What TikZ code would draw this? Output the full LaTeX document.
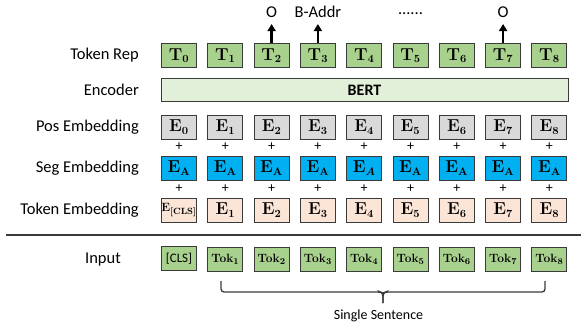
\documentclass[tikz,border=0pt]{standalone}
\usepackage{fontspec}
\setmainfont{Carlito}
\usetikzlibrary{arrows.meta}
\definecolor{bordercol}{HTML}{3A3A3A}
\definecolor{greenfill}{HTML}{A9D18E}
\definecolor{bertfill}{HTML}{E2F0D9}
\definecolor{posfill}{HTML}{D9D9D9}
\definecolor{segfill}{HTML}{00B0F0}
\definecolor{tokfill}{HTML}{FBE5D6}
\tikzset{
  cell/.style={draw=bordercol, line width=0.9pt, minimum width=35pt, minimum height=24pt, inner sep=0pt, font=\fontsize{16}{18}\selectfont\boldmath},
  trep/.style={cell, fill=greenfill},
  posbox/.style={cell, fill=posfill},
  segbox/.style={cell, fill=segfill},
  tokbox/.style={cell, fill=tokfill},
  inbox/.style={cell, fill=greenfill, font=\fontsize{13}{15}\selectfont\boldmath},
  rowlabel/.style={anchor=east, inner sep=0pt, font=\fontsize{16.5}{18}\selectfont},
  toplabel/.style={inner sep=0pt, font=\fontsize{16.5}{18}\selectfont},
  plussign/.style={inner sep=0pt, font=\fontsize{14}{15}\selectfont},
  uparrow/.style={-{Triangle[width=8pt,length=7pt]}, line width=2.4pt, black},
}
\begin{document}
\begin{tikzpicture}[x=1pt,y=-1pt]
\useasboundingbox (0,0) rectangle (581,327);
% row labels
\node[rowlabel] (lrep) at (139,55.5) {Token Rep};
\node[rowlabel] (lenc) at (139,90) {Encoder};
\node[rowlabel] (lpos) at (139,127) {Pos Embedding};
\node[rowlabel] (lseg) at (139,168) {Seg Embedding};
\node[rowlabel] (ltok) at (139,210) {Token Embedding};
\node[inner sep=0pt, font=\fontsize{16.5}{18}\selectfont] (linp) at (103,259.5) {Input};
% encoder
\node[draw=bordercol, line width=0.9pt, fill=bertfill, minimum width=407pt, minimum height=23pt, inner sep=0pt, font=\fontsize{16}{18}\selectfont\bfseries] (bert) at (364.5,90) {BERT};
% columns
\foreach \i in {0,...,8}{
  \pgfmathsetmacro{\xx}{179+46.3*\i}
  \node[trep] (t\i) at (\xx,55.5) {$\mathbf{T}_{\mathbf{\i}}$};
  \node[posbox] (p\i) at (\xx,127) {$\mathbf{E}_{\mathbf{\i}}$};
  \node[plussign] (pa\i) at (\xx,147) {+};
  \node[plussign] (pb\i) at (\xx,189) {+};
}
\foreach \i in {0,1,2,3,5,6,7,8}{
  \pgfmathsetmacro{\xx}{179+46.3*\i}
  \node[segbox] (s\i) at (\xx,168) {$\mathbf{E}_{\mathbf{A}}$};
}
\node[segbox] (s4) at (179+46.3*4,168) {$\mathbf{E}_{A}$};
\node[tokbox, font=\fontsize{13}{15}\selectfont\boldmath] (e0) at (179,210) {$\mathbf{E}_{\mathbf{[CLS]}}$};
\foreach \i in {1,...,8}{
  \pgfmathsetmacro{\xx}{179+46.3*\i}
  \node[tokbox] (e\i) at (\xx,210) {$\mathbf{E}_{\mathbf{\i}}$};
  \node[inbox] (i\i) at (\xx,259) {$\mathbf{Tok}_{\mathbf{\i}}$};
}
\node[inbox, font=\fontsize{13}{15}\selectfont] (i0) at (179,258.5) {[CLS]};
% separator line
\coordinate (sepL) at (6,235);
\coordinate (sepR) at (581,235);
\draw[line width=1.8pt, bordercol] (sepL) -- (sepR);
% outputs
\node[toplabel] (o2) at (t2 |- 0,12) {O};
\node[toplabel] (o3) at (t3 |- 0,12) {B-Addr};
\node[toplabel] (dots) at (410.5,14) {......};
\node[toplabel] (o7) at (t7 |- 0,12) {O};
\coordinate (a2) at (t2 |- 0,24);
\coordinate (a3) at (t3 |- 0,24);
\coordinate (a7) at (t7 |- 0,24);
\draw[uparrow] (t2.north) -- (a2);
\draw[uparrow] (t3.north) -- (a3);
\draw[uparrow] (t7.north) -- (a7);
% brace
\coordinate (bl) at (221,281);
\coordinate (br) at (545,281);
\coordinate (btip) at (383,303);
\draw[bordercol, line width=1.3pt, rounded corners=3pt] (bl) -- (221,292) -- (380.5,292) -- (383,293) -- (btip);
\draw[bordercol, line width=1.3pt, rounded corners=3pt] (br) -- (545,292) -- (385.5,292) -- (383,293) -- (btip);
\node[inner sep=0pt, font=\fontsize{14}{16}\selectfont] (single) at (378.5,316) {Single Sentence};
\end{tikzpicture}
\end{document}
